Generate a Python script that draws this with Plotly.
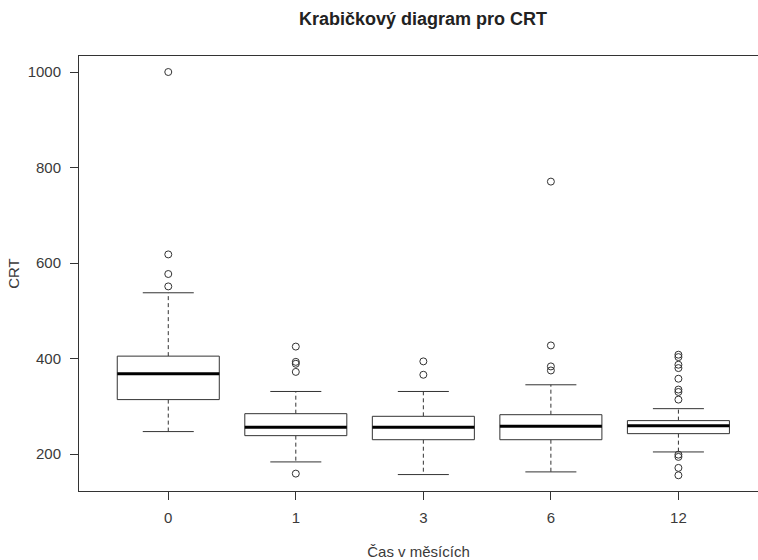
import plotly.graph_objects as go

# Time points (months) and five-number summaries of CRT per group
groups = ["0", "1", "3", "6", "12"]
q1 = [314, 238.5, 230, 230, 242.7]
median = [368, 256, 256, 258, 259.4]
q3 = [405, 284.5, 279, 282.4, 270]
whisker_low = [247, 183.5, 157, 162.6, 204.4]
whisker_high = [537.7, 331, 331, 345, 295]

# Outlying observations per group
outliers_0 = [1000, 618, 577, 551]
outliers_1 = [425, 393, 389, 372, 159]
outliers_3 = [394, 366]
outliers_6 = [770.5, 427.4, 383.5, 375]
outliers_12 = [408, 403, 387, 380, 357.7, 335, 330, 314, 198.7, 194, 171, 155.5]
outliers = [outliers_0, outliers_1, outliers_3, outliers_6, outliers_12]

yticks = [200, 400, 600, 800, 1000]

LINE = "#333333"
FONT = "Liberation Sans, Arial, sans-serif"
HALF_BOX = 0.4
HALF_CAP = 0.2

box_x, box_y = [], []
med_x, med_y = [], []
wh_x, wh_y = [], []
cap_x, cap_y = [], []
out_x, out_y = [], []

for i in range(len(groups)):
    p = i + 1
    box_x += [p - HALF_BOX, p + HALF_BOX, p + HALF_BOX, p - HALF_BOX, p - HALF_BOX, None]
    box_y += [q1[i], q1[i], q3[i], q3[i], q1[i], None]
    med_x += [p - HALF_BOX, p + HALF_BOX, None]
    med_y += [median[i], median[i], None]
    wh_x += [p, p, None, p, p, None]
    wh_y += [q3[i], whisker_high[i], None, q1[i], whisker_low[i], None]
    cap_x += [p - HALF_CAP, p + HALF_CAP, None, p - HALF_CAP, p + HALF_CAP, None]
    cap_y += [whisker_high[i], whisker_high[i], None, whisker_low[i], whisker_low[i], None]
    out_x += [p] * len(outliers[i])
    out_y += outliers[i]

fig = go.Figure()
fig.add_trace(go.Scatter(x=wh_x, y=wh_y, mode="lines",
                         line=dict(color=LINE, width=1, dash="4px,3px")))
fig.add_trace(go.Scatter(x=cap_x, y=cap_y, mode="lines",
                         line=dict(color=LINE, width=1)))
fig.add_trace(go.Scatter(x=box_x, y=box_y, mode="lines", fill="toself",
                         fillcolor="white", line=dict(color=LINE, width=1)))
fig.add_trace(go.Scatter(x=med_x, y=med_y, mode="lines",
                         line=dict(color="black", width=3)))
fig.add_trace(go.Scatter(x=out_x, y=out_y, mode="markers",
                         marker=dict(symbol="circle-open", size=7,
                                     color=LINE, line=dict(width=1))))

fig.update_layout(
    width=758, height=560,
    margin=dict(l=79, r=0, t=56, b=69),
    plot_bgcolor="white", paper_bgcolor="white",
    showlegend=False,
    font=dict(family=FONT, size=15, color="#3a3a3a"),
    title=dict(text="<b>Krabičkový diagram pro CRT</b>",
               font=dict(family=FONT, size=18, color="#222222"),
               x=423 / 758, xanchor="center", xref="container",
               y=1 - 19 / 560, yref="container", yanchor="middle"),
    xaxis=dict(
        range=[0.3, 5.624],
        tickmode="array", tickvals=[1, 2, 3, 4, 5], ticktext=groups,
        ticks="outside", ticklen=8, tickcolor=LINE,
        ticklabelstandoff=5, automargin=False,
        showline=True, linecolor=LINE, linewidth=1, mirror=True,
        showgrid=False, zeroline=False,
        title=dict(text="Čas v měsících", standoff=24,
                   font=dict(family=FONT, size=15)),
    ),
    yaxis=dict(
        range=[122.6, 1033.5],
        tickmode="array", tickvals=yticks,
        ticks="outside", ticklen=8, tickcolor=LINE,
        ticklabelstandoff=6, automargin=False,
        showline=True, linecolor=LINE, linewidth=1,
        showgrid=False, zeroline=False,
        title=dict(text="CRT", standoff=4,
                   font=dict(family=FONT, size=15)),
    ),
)

fig.write_html("out.html")
